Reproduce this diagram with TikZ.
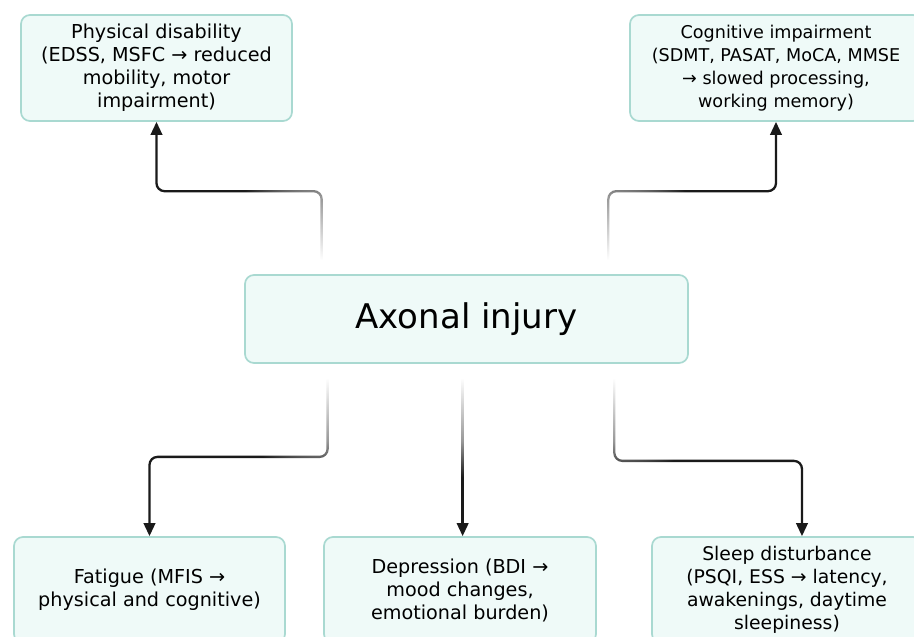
\documentclass[tikz,border=0pt]{standalone}
\usepackage{fontspec}
\setmainfont{DejaVu Sans}
\usetikzlibrary{arrows.meta,fadings}
\definecolor{boxfill}{HTML}{EFFAF8}
\definecolor{boxline}{HTML}{A9D9D1}
\definecolor{linecol}{HTML}{1A1A1A}
\colorlet{fadmid}{white!45!black}
\pgfdeclareradialshading{conshade}{\pgfpoint{0bp}{0bp}}{color(0bp)=(black); color(2.5bp)=(black); color(13bp)=(fadmid); color(19bp)=(white); color(50bp)=(white)}
\pgfdeclarefading{confade}{\pgfuseshading{conshade}}
\tikzset{
  box/.style={draw=boxline, fill=boxfill, line width=1.7pt, rounded corners=9pt,
    align=center, inner sep=0pt, minimum height=106, text=black,
    font=\fontsize{19.2}{23}\selectfont},
  conn/.style={draw=linecol, line width=2.3pt, rounded corners=8pt,
    -{Triangle[length=13pt,width=11.5pt]}, path fading=confade, fit fading=false},
}
\begin{document}
\begin{tikzpicture}[x=1pt,y=-1pt]
\useasboundingbox (0,0) rectangle (914,637);
\fill[white] (0,0) rectangle (914,637);

\node[box, minimum width=271] (phys) at (156.5,68) {Physical disability\\(EDSS, MSFC → reduced\\mobility, motor\\impairment)};
\node[box, minimum width=292, font=\fontsize{17.6}{23}\selectfont] (cog) at (776,68) {Cognitive impairment\\(SDMT, PASAT, MoCA, MMSE\\→ slowed processing,\\working memory)};
\node[box, minimum width=443, minimum height=88, font=\fontsize{34}{40}\selectfont] (axon) at (466.5,319) {Axonal injury};
\node[box, minimum width=271] (fat) at (149.5,590) {Fatigue (MFIS →\\physical and cognitive)};
\node[box, minimum width=272] (dep) at (460,590) {Depression (BDI →\\mood changes,\\emotional burden)};
\node[box, minimum width=270, font=\fontsize{18.8}{23}\selectfont] (sleep) at (787,590) {Sleep disturbance\\(PSQI, ESS → latency,\\awakenings, daytime\\sleepiness)};

\draw[conn, fading transform={shift={(322,275)}, scale=6}]
  ([xshift=77.5]axon.north west) -- ++(0,-83) -| (phys.south);
\draw[conn, fading transform={shift={(608,275)}, scale=6}]
  ([xshift=-80.5]axon.north east) -- ++(0,-83) -| (cog.south);
\draw[conn, fading transform={shift={(328,363)}, scale=6}]
  ([xshift=83.5]axon.south west) -- ++(0,93) -| (fat.north);
\draw[conn, fading transform={shift={(463,363)}, scale=6}]
  ([xshift=218.5]axon.south west) -- ([xshift=218.5]axon.south west |- dep.north);
\draw[conn, fading transform={shift={(614,363)}, scale=6}]
  ([xshift=-74.5]axon.south east) -- ++(0,97) -| ([xshift=15]sleep.north);
\end{tikzpicture}
\end{document}
